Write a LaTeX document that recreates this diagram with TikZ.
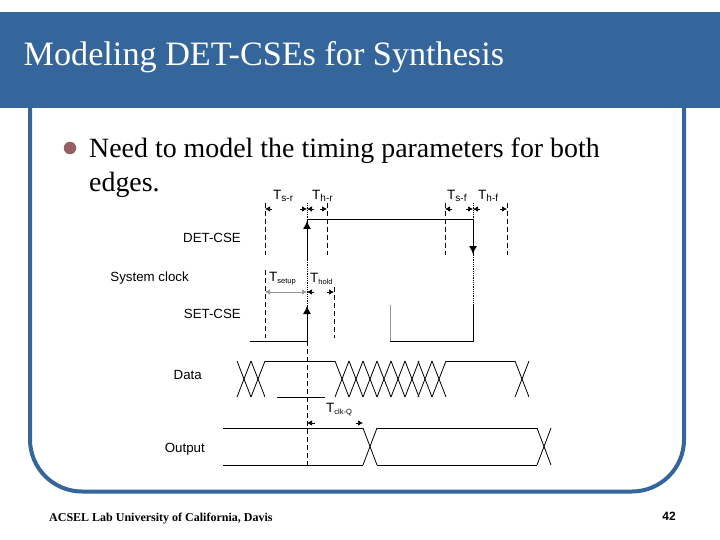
\documentclass[tikz,border=0pt]{standalone}
\usepackage{fontspec}
\setmainfont{Liberation Serif}
\setsansfont{Liberation Sans}
\usepackage{xcolor}
\usetikzlibrary{positioning, calc, arrows.meta}
\definecolor{slBlue}{RGB}{52, 101, 155}
\definecolor{slGray}{RGB}{150, 150, 150}
\definecolor{slMauve}{RGB}{150, 95, 100}
\newcommand{\timelabel}[3]{T\raisebox{-2pt}{\fontsize{#1}{#2}\selectfont #3}}
\tikzset{
    sigtext/.style={
        font=\fontsize{13.3}{15}\sffamily,
        inner sep=0pt,
        anchor=east
    },
    timetext/.style={
        font=\fontsize{13.5}{15}\sffamily,
        inner sep=0pt,
        anchor=west
    },
    bodytext/.style={
        font=\fontsize{27.9}{33}\selectfont,
        inner sep=0pt,
        anchor=base west
    },
    wave/.style={
        line width=0.8pt,
        color=black
    },
    clock/.style={
        line width=0.9pt,
        color=black
    },
    guide/.style={
        line width=0.8pt,
        dash pattern=on 5pt off 3pt,
        color=black
    },
    ghost/.style={
        line width=0.8pt,
        densely dotted,
        color=black
    },
    stub/.style={
        line width=0.7pt,
        -{Latex[length=5pt,width=5.5pt]},
        color=black
    },
    edgemark/.style={
        line width=0.9pt,
        -{Latex[length=8pt,width=8pt]},
        color=black
    }
}
\begin{document}
\begin{tikzpicture}[x=1pt,y=-1pt]
  \useasboundingbox (0,0) rectangle (720,540);

  % Slide frame
  \draw[slBlue, line width=4pt, rounded corners=52pt] (30,100) -- (30,491.5) -- (684,491.5) -- (684,100);
  \fill[slBlue] (0,12) rectangle (720,108);
  \node[font=\fontsize{34.2}{40}\selectfont, text=white, inner sep=0pt, anchor=base west] (title) at (23.5,66) {Modeling DET-CSEs for Synthesis};

  % Bullet text
  \node[circle, fill=slMauve, inner sep=0pt, minimum size=12.5pt] (bullet) at (70,148) {};
  \node[bodytext] (line1) at (89,158) {Need to model the timing parameters for both};
  \node[bodytext] (line2) at (89,192) {edges.};

  % Signal names
  \node[sigtext] (det) at (241,238) {DET-CSE};
  \node[sigtext] (sys) at (189,278) {System clock};
  \node[sigtext] (set) at (241,314) {SET-CSE};
  \node[sigtext] (data) at (202,375) {Data};
  \node[sigtext] (output) at (205,449) {Output};

  % Timing names
  \node[timetext] (tsr) at (273,196) {\timelabel{10}{11}{s-r}};
  \node[timetext] (thr) at (312,196) {\timelabel{10}{11}{h-r}};
  \node[timetext] (tsf) at (447,196) {\timelabel{10}{11}{s-f}};
  \node[timetext] (thf) at (478,196) {\timelabel{10}{11}{h-f}};
  \node[timetext] (tsetup) at (269,279) {\timelabel{7.5}{8}{setup}};
  \node[timetext] (thold) at (310,279) {\timelabel{7.5}{8}{hold}};
  \node[timetext] (tclk) at (326,410) {\timelabel{7.5}{8}{clk-Q}};

  % Clock for DET-CSE
  \draw[clock] (307,260) -- (307,219) -- (473,219) -- (473,255);
  \draw[edgemark] (307,240) -- (307,221);
  \draw[edgemark] (473,232) -- (473,254);
  \draw[ghost] (307,203) -- (307,219);
  \draw[ghost] (473,203) -- (473,219);
  \draw[ghost] (307,260) -- (307,305);
  \draw[ghost] (473,255) -- (473,305);

  % Clock for SET-CSE
  \draw[clock] (250,341) -- (307,341) -- (307,305);
  \draw[edgemark] (307,322) -- (307,306);
  \draw[line width=0.9pt, slGray] (390,305) -- (390,341);
  \draw[clock] (390,341) -- (473,341) -- (473,305);

  % Guides
  \draw[guide] (265,203) -- (265,255);
  \draw[guide] (327,203) -- (327,255);
  \draw[guide] (445,203) -- (445,255);
  \draw[guide] (507,203) -- (507,255);
  \draw[guide] (265,270) -- (265,338);
  \draw[guide] (334,287) -- (334,338);
  \draw[guide] (307,341) -- (307,465);

  % Setup and hold marks
  \foreach \xa/\xd/\yy in {265/307/209, 307/327/209, 445/473/209, 473/507/209, 307/334/292} {
    \draw[stub] (\xa+7,\yy) -- (\xa,\yy);
    \draw[stub] (\xd-7,\yy) -- (\xd,\yy);
  }
  \draw[stub, slGray] (285,292) -- (265,292);
  \draw[stub, slGray] (285,292) -- (307,292);
  \draw[stub] (315,423) -- (307,423);
  \draw[stub] (356,423) -- (363,423);

  % Data
  \foreach \xa in {237,251,335,349,363,377,391,405,418,432,515} {
    \draw[wave] (\xa,361) -- (\xa+14,397);
    \draw[wave] (\xa,397) -- (\xa+14,361);
  }
  \draw[wave] (265,361) -- (335,361);
  \draw[wave] (277,397) -- (325,397);
  \draw[wave] (446,361) -- (515,361);

  % Output
  \draw[wave] (223,428) -- (363,428);
  \draw[wave] (223,465) -- (363,465);
  \draw[wave] (363,428) -- (377,465);
  \draw[wave] (363,465) -- (377,428);
  \draw[wave] (377,428) -- (537,428);
  \draw[wave] (377,465) -- (537,465);
  \draw[wave] (537,428) -- (551,465);
  \draw[wave] (537,465) -- (551,428);

  % Footer
  \node[font=\fontsize{12}{14}\bfseries, inner sep=0pt, anchor=base west] (footer) at (49,521) {ACSEL Lab University of California, Davis};
  \node[font=\fontsize{12}{14}\bfseries\sffamily, inner sep=0pt, anchor=base east] (page) at (676,520) {42};
\end{tikzpicture}
\end{document}
